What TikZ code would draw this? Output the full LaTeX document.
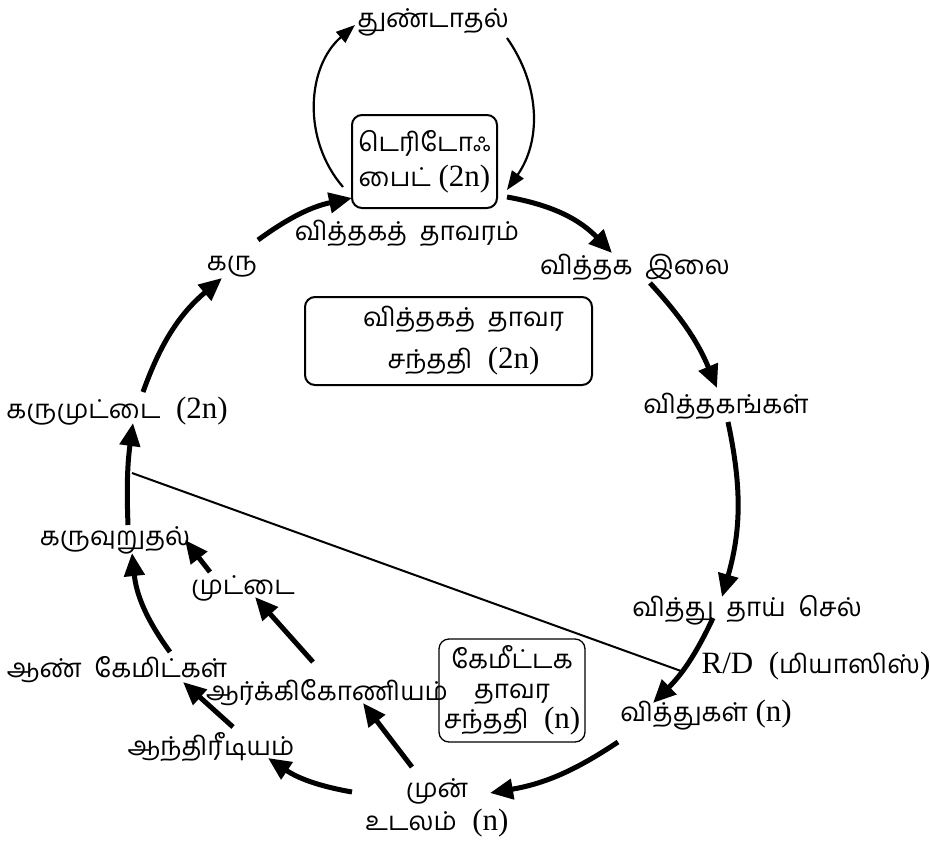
\documentclass[tikz,border=0pt]{standalone}
\usepackage{fontspec}
\setmainfont{Liberation Serif}
\newfontfamily\tamfont[Script=Tamil]{Hind Madurai}
\usetikzlibrary{arrows.meta}
\newcommand\tm[1]{{\tamfont\fontsize{26}{34}\selectfont #1}}
\begin{document}
\begin{tikzpicture}[x=1pt,y=-1pt,
  lbl/.style={inner sep=0pt, font=\fontsize{31}{34}\selectfont, align=center},
  big/.style={line width=5pt, -{Triangle[length=23pt,width=20pt]}},
  thinarr/.style={line width=2.2pt, -{Triangle[length=19pt,width=14pt]}},
  rbox/.style={draw, rounded corners=10pt, line width=2pt, inner sep=0pt, align=center}]
\useasboundingbox (0,0) rectangle (930,844);

% text nodes
\node[lbl] (tund) at (433,22) {\tm{துண்டாதல்}};
\node[rbox, minimum width=145pt, minimum height=93pt, font=\fontsize{31}{35}\selectfont] (box1) at (424.5,161.5) {\tm{டெரிடோஃ}\\\tm{பைட்}~(2n)};
\node[lbl] (vt) at (407,233) {\tm{வித்தகத்~ தாவரம்}};
\node[lbl] (karu) at (232,267) {\tm{கரு}};
\node[lbl] (ilai) at (635,267) {\tm{வித்தக~ இலை}};
\node[rbox, minimum width=287pt, minimum height=88pt, font=\fontsize{31}{42}\selectfont] (box2) at (448.5,341) {\hspace*{30pt}\tm{வித்தகத்~ தாவர}\\\hspace*{30pt}\tm{சந்ததி}~ (2n)};
\node[lbl] (vkal) at (726,406) {\tm{வித்தகங்கள்}};
\node[lbl] (vtc) at (747,610) {\tm{வித்து~ தாய்~ செல்}};
\node[lbl] (rd) at (816,666) {R/D~ (\tm{மியாஸிஸ்})};
\node[lbl] (vitk) at (706,715) {\tm{வித்துகள்} (n)};
\node[rbox, line width=1.3pt, minimum width=146pt, minimum height=103pt, font=\fontsize{31}{30}\selectfont] (box3) at (512,690.5) {\tm{கேமீட்டக}\\\tm{தாவர}\\\tm{சந்ததி}~ (n)};
\node[lbl, font=\fontsize{31}{33}\selectfont] (mun) at (437,808) {\tm{முன்}\\\tm{உடலம்}~ (n)};
\node[lbl] (anth) at (211,747) {\tm{ஆந்திரீடியம்}};
\node[lbl] (akm) at (117,670) {\tm{ஆண்~ கேமிட்கள்}};
\node[lbl] (arch) at (327,693) {\tm{ஆர்க்கிகோணியம்}};
\node[lbl] (mut) at (243,588) {\tm{முட்டை}};
\node[lbl] (karuv) at (115,540) {\tm{கருவுறுதல்}};
\node[lbl] (kmt) at (117,411) {\tm{கருமுட்டை}~ (2n)};

% main cycle arrows
\draw[big] ([shift={(26,-19)}]kmt.center) to[bend left=15] ([shift={(-10,11)}]karu.center);
\draw[big] ([shift={(26,-27)}]karu.center) to[bend left=12] ([shift={(-72.5,36.5)}]box1.center);
\draw[big] ([shift={(82.5,35.5)}]box1.center) to[bend left=18] ([shift={(-23,-14)}]ilai.center);
\draw[big] ([shift={(15,16)}]ilai.center) to[bend left=10] ([shift={(-9,-18)}]vkal.center);
\draw[big] ([shift={(2,16)}]vkal.center) to[bend left=14] ([shift={(-25,-13)}]vtc.center);
\draw[big] ([shift={(-34,8)}]vtc.center) to[bend left=10] ([shift={(-53,-12)}]vitk.center);
\draw[big] ([shift={(-88,27)}]vitk.center) to[bend left=12] ([shift={(53,-15)}]mun.center);
\draw[big] ([shift={(-85,-16)}]mun.center) to[bend left=12] ([shift={(57,11)}]anth.center);
\draw[big] ([shift={(-25,-41)}]mun.center) -- ([shift={(36,10)}]arch.center);
\draw[big] ([shift={(22,-20)}]anth.center) -- ([shift={(66,12)}]akm.center);
\draw[big] ([shift={(-14,-31)}]arch.center) -- ([shift={(12,9)}]mut.center);
\draw[big] ([shift={(53,-18)}]akm.center) to[bend left=15] ([shift={(17,13)}]karuv.center);
\draw[big] ([shift={(-33,-16)}]mut.center) -- ([shift={(70,0)}]karuv.center);
\draw[big] ([shift={(13,-15)}]karuv.center) to[bend left=5] ([shift={(16,12)}]kmt.center);

% fragmentation loop
\draw[thinarr] ([shift={(-81.5,25.5)}]box1.center) to[bend left=45] ([shift={(-78,3)}]tund.center);
\draw[thinarr] ([shift={(74,16)}]tund.center) to[bend left=35] ([shift={(82.5,28.5)}]box1.center);

% dividing line
\draw[line width=2pt] ([shift={(15,62)}]kmt.center) -- ([shift={(-135,5)}]rd.center);
\end{tikzpicture}
\end{document}
